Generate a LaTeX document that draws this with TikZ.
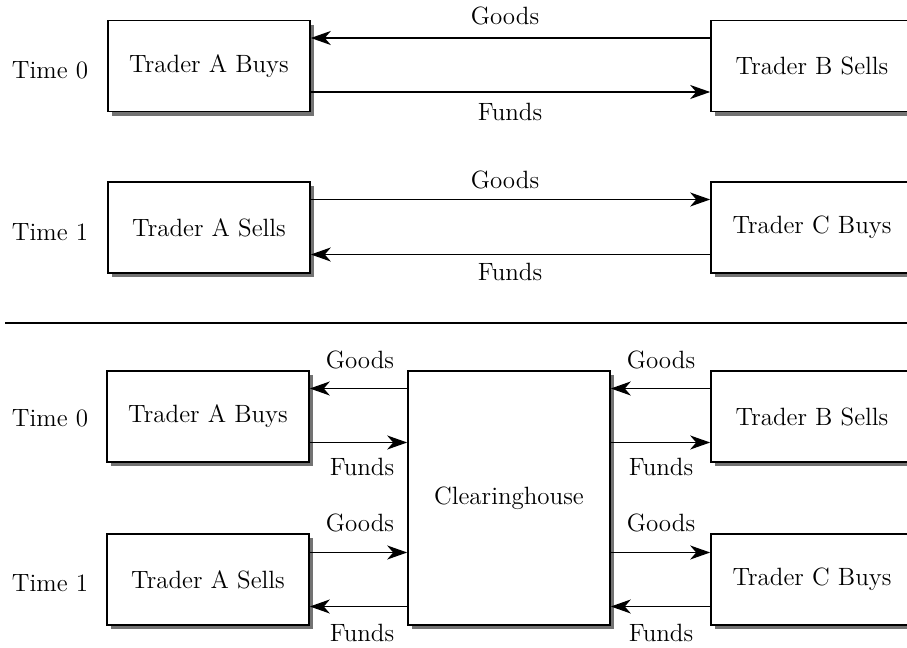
\documentclass[tikz,border=0pt]{standalone}
\usepackage{tikz}
\usetikzlibrary{arrows.meta, shadows}

\begin{document}
\begin{tikzpicture}[x=0.5pt, y=-0.5pt,
    font=\fontsize{12.5}{15}\selectfont,
    trader/.style={draw, thick, fill=white, minimum width=101pt, minimum height=45.5pt,
        drop shadow={shadow xshift=2pt, shadow yshift=-2pt, fill=black!55, opacity=1}},
    flow/.style={thick, -{Stealth[length=10pt, width=7pt, inset=3pt]}}]
    \useasboundingbox (0,0) rectangle (907,648);

    % Direct trading: time 0 and time 1
    \node (t0) at (50,70) {Time 0};
    \node[trader] (a0) at (209,66) {Trader A Buys};
    \node[trader] (b0) at (812,66) {Trader B Sells};
    \draw[flow] ([yshift=14pt]b0.west) -- ([yshift=14pt]a0.east);
    \draw[flow] ([yshift=-13pt]a0.east) -- ([yshift=-13pt]b0.west);
    \node (g0) at (505,16) {Goods};
    \node (f0) at (510,112) {Funds};

    \node (t1) at (50,232) {Time 1};
    \node[trader] (a1) at (209,227.5) {Trader A Sells};
    \node[trader] (c1) at (812,227.5) {Trader C Buys};
    \draw[flow] ([yshift=14pt]a1.east) -- ([yshift=14pt]c1.west);
    \draw[flow] ([yshift=-13.5pt]c1.west) -- ([yshift=-13.5pt]a1.east);
    \node (g1) at (505,180) {Goods};
    \node (f1) at (510,272) {Funds};

    % Separator
    \draw[line width=1.2pt] (5,323) -- (907,323);

    % Trading through the clearinghouse
    \node[trader, minimum height=127pt] (ch) at (509,498) {Clearinghouse};

    \node (t2) at (50,418) {Time 0};
    \node[trader] (a2) at (208,416.5) {Trader A Buys};
    \node[trader] (b2) at (812,416.5) {Trader B Sells};
    \coordinate (ga2) at ([yshift=14pt]a2.east);
    \coordinate (fa2) at ([yshift=-13pt]a2.east);
    \coordinate (gb2) at ([yshift=14pt]b2.west);
    \coordinate (fb2) at ([yshift=-13pt]b2.west);
    \draw[flow] (ch.west |- ga2) -- (ga2);
    \draw[flow] (fa2) -- (ch.west |- fa2);
    \draw[flow] (gb2) -- (ch.east |- gb2);
    \draw[flow] (ch.east |- fb2) -- (fb2);
    \node (ga2l) at (360,360) {Goods};
    \node (fa2l) at (362,467) {Funds};
    \node (gb2l) at (661,360) {Goods};
    \node (fb2l) at (661,467) {Funds};

    \node (t3) at (50,583) {Time 1};
    \node[trader] (a3) at (208,579.5) {Trader A Sells};
    \node[trader] (c3) at (812,579.5) {Trader C Buys};
    \coordinate (ga3) at ([yshift=13.5pt]a3.east);
    \coordinate (fa3) at ([yshift=-13.5pt]a3.east);
    \coordinate (gc3) at ([yshift=13.5pt]c3.west);
    \coordinate (fc3) at ([yshift=-13.5pt]c3.west);
    \draw[flow] (ga3) -- (ch.west |- ga3);
    \draw[flow] (ch.west |- fa3) -- (fa3);
    \draw[flow] (ch.east |- gc3) -- (gc3);
    \draw[flow] (fc3) -- (ch.east |- fc3);
    \node (ga3l) at (360,523) {Goods};
    \node (fa3l) at (362,633) {Funds};
    \node (gc3l) at (661,523) {Goods};
    \node (fc3l) at (661,633) {Funds};
\end{tikzpicture}
\end{document}
